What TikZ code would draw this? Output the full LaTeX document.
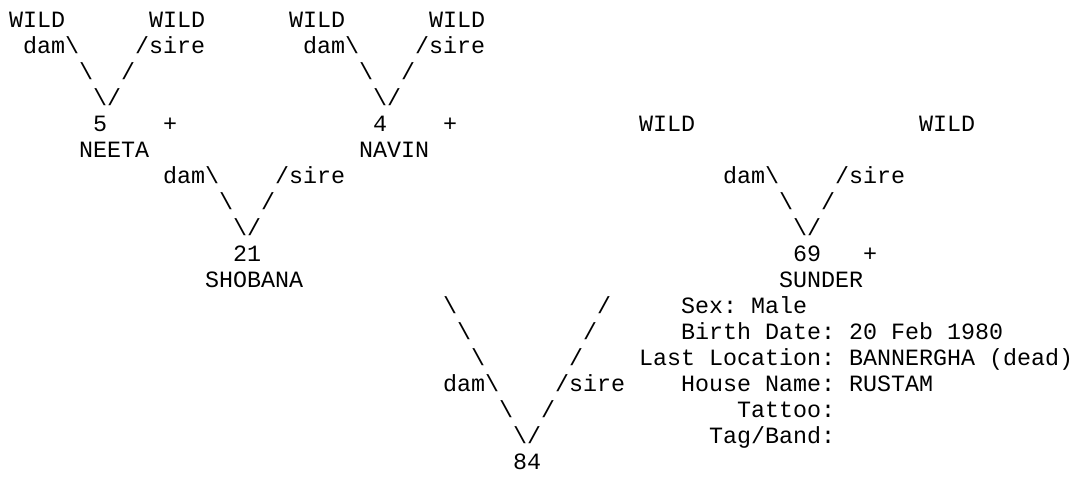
\documentclass[tikz,border=0pt]{standalone}
\usepackage{fontspec}
\setmonofont{Liberation Mono}

\tikzset{
  ascii/.style={anchor=base west, inner sep=0pt, outer sep=0pt,
    font=\ttfamily\fontsize{17.5pt}{19.5pt}\selectfont},
}

\begin{document}
\begin{tikzpicture}[x=10.5pt, y=-19.5pt]
    \useasboundingbox (-0.643,-1.058) rectangle (76,17.327);
    % dam/sire branches of each animal
    \foreach \b/\r in {0/1, 20/1, 10/6, 50/6, 30/14} {
        \node[ascii] (dam\b) at (\b+1,\r) {dam\textbackslash};
        \node[ascii] (sire\b) at (\b+9,\r) {/sire};
        \node[ascii] (dl\b) at (\b+5,\r+1) {\textbackslash};
        \node[ascii] (sl\b) at (\b+8,\r+1) {/};
        \node[ascii] (v\b) at (\b+6,\r+2) {\textbackslash/};
    }
    % long legs of 84
    \foreach \i in {0,1,2} {
        \node[ascii] (ldam\i) at (31+\i,11+\i) {\textbackslash};
        \node[ascii] (lsire\i) at (42-\i,11+\i) {/};
    }
    % unknown parents
    \node[ascii] (wild1) at (0,0) {WILD};
    \node[ascii] (wild2) at (10,0) {WILD};
    \node[ascii] (wild3) at (20,0) {WILD};
    \node[ascii] (wild4) at (30,0) {WILD};
    \node[ascii] (wild5) at (45,4) {WILD};
    \node[ascii] (wild6) at (65,4) {WILD};
    % animals
    \node[ascii] (n5) at (6,4) {5};
    \node[ascii] (p5) at (11,4) {+};
    \node[ascii] (neeta) at (5,5) {NEETA};
    \node[ascii] (n4) at (26,4) {4};
    \node[ascii] (p4) at (31,4) {+};
    \node[ascii] (navin) at (25,5) {NAVIN};
    \node[ascii] (n21) at (16,9) {21};
    \node[ascii] (shobana) at (14,10) {SHOBANA};
    \node[ascii] (n69) at (56,9) {69};
    \node[ascii] (p69) at (61,9) {+};
    \node[ascii] (sunder) at (55,10) {SUNDER};
    \node[ascii] (n84) at (36,17) {84};
    % details of 69
    \node[ascii] (sex) at (48,11) {Sex: Male};
    \node[ascii] (birth) at (48,12) {Birth Date: 20 Feb 1980};
    \node[ascii] (loc) at (45,13) {Last Location: BANNERGHA (dead)};
    \node[ascii] (house) at (48,14) {House Name: RUSTAM};
    \node[ascii] (tattoo) at (52,15) {Tattoo:};
    \node[ascii] (tag) at (50,16) {Tag/Band:};
\end{tikzpicture}
\end{document}
